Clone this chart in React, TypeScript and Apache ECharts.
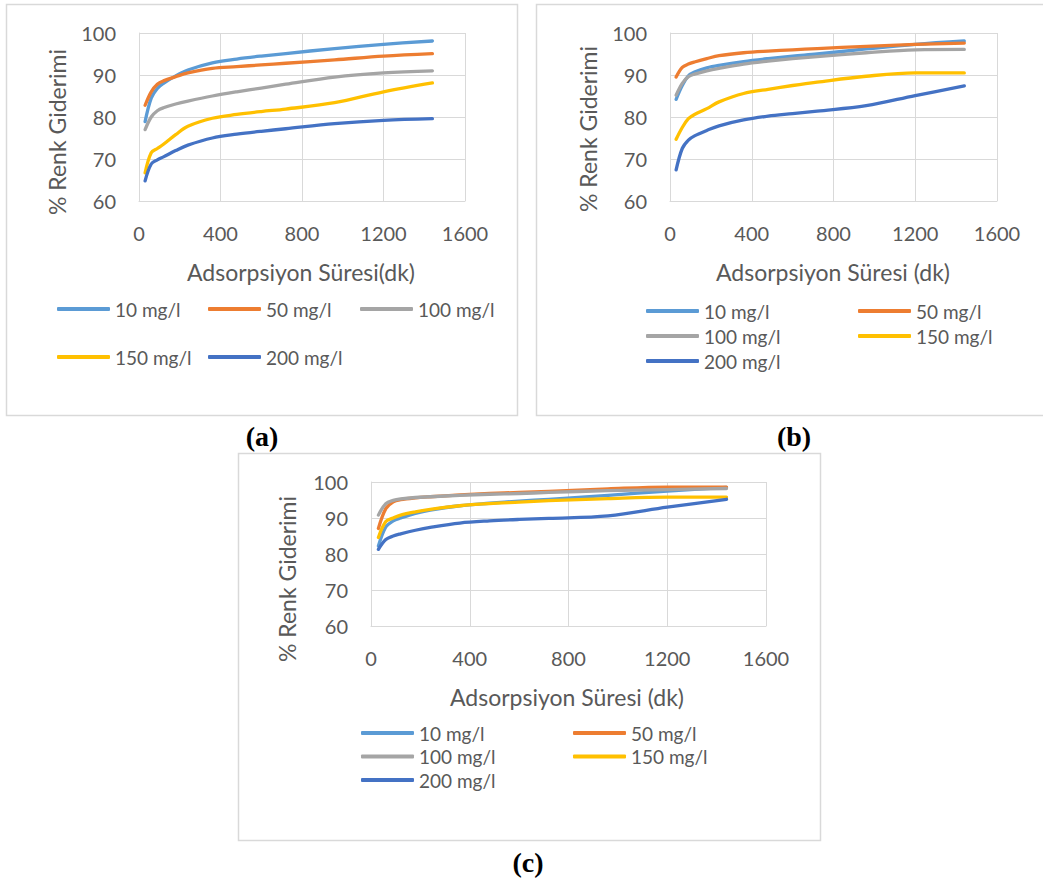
import React, { useEffect, useRef } from "react";
import * as echarts from "echarts";

// ---- data ----
const TIMES = [30, 60, 90, 120, 180, 240, 360, 480, 600, 720, 960, 1200, 1440];
const SERIES_NAMES = ["10 mg/l", "50 mg/l", "100 mg/l", "150 mg/l", "200 mg/l"];
const COLORS = ["#5B9BD5", "#ED7D31", "#A5A5A5", "#FFC000", "#4472C4"];
const X_TICKS = [0, 400, 800, 1200, 1600];
const Y_TICKS = [60, 70, 80, 90, 100];

// panel (a)
const A_10 = [78.9, 84.5, 86.8, 88.0, 89.8, 91.2, 92.9, 93.8, 94.5, 95.1, 96.3, 97.3, 98.1];
const A_50 = [82.8, 86.0, 87.8, 88.6, 89.6, 90.5, 91.6, 92.0, 92.4, 92.8, 93.6, 94.5, 95.1];
const A_100 = [77.0, 80.0, 81.5, 82.2, 83.1, 83.8, 85.0, 86.0, 86.9, 87.8, 89.5, 90.5, 91.0];
const A_150 = [66.7, 71.5, 72.5, 73.5, 75.8, 77.8, 79.7, 80.6, 81.3, 81.9, 83.4, 86.0, 88.1];
const A_200 = [64.8, 68.8, 69.8, 70.5, 72.0, 73.3, 75.0, 75.9, 76.6, 77.2, 78.4, 79.2, 79.6];

// panel (b)
const B_10 = [84.2, 87.5, 89.8, 90.7, 91.7, 92.3, 93.2, 93.9, 94.5, 95.0, 96.2, 97.3, 98.1];
const B_50 = [89.5, 91.8, 92.6, 93.1, 93.9, 94.6, 95.3, 95.7, 96.0, 96.3, 96.8, 97.3, 97.6];
const B_100 = [85.2, 88.0, 89.6, 90.2, 91.0, 91.6, 92.6, 93.3, 93.9, 94.4, 95.3, 96.0, 96.1];
const B_150 = [74.7, 77.5, 79.6, 80.6, 82.0, 83.6, 85.6, 86.6, 87.5, 88.3, 89.7, 90.5, 90.5];
const B_200 = [67.4, 72.5, 74.5, 75.5, 76.8, 77.9, 79.3, 80.2, 80.8, 81.4, 82.7, 85.1, 87.4];

// panel (c)
const C_10 = [82.2, 87.5, 89.2, 90.0, 91.3, 92.2, 93.4, 94.1, 94.7, 95.2, 96.3, 97.5, 98.5];
const C_50 = [87.1, 92.6, 94.5, 95.1, 95.6, 95.9, 96.4, 96.8, 97.1, 97.4, 98.1, 98.6, 98.6];
const C_100 = [90.8, 94.0, 94.9, 95.3, 95.7, 95.9, 96.3, 96.6, 96.8, 97.1, 97.6, 97.9, 98.2];
const C_150 = [84.6, 89.0, 90.0, 90.8, 91.7, 92.4, 93.4, 94.0, 94.4, 94.8, 95.4, 95.8, 95.8];
const C_200 = [81.3, 84.0, 85.0, 85.6, 86.6, 87.4, 88.6, 89.2, 89.6, 89.9, 90.6, 93.0, 95.2];

const PANEL_DATA = [
  [A_10, A_50, A_100, A_150, A_200],
  [B_10, B_50, B_100, B_150, B_200],
  [C_10, C_50, C_100, C_150, C_200],
];
const X_TITLES = ["Adsorpsiyon Süresi(dk)", "Adsorpsiyon Süresi (dk)", "Adsorpsiyon Süresi (dk)"];
const Y_TITLE = "% Renk Giderimi";
const PANEL_LABELS = ["(a)", "(b)", "(c)"];

// ---- layout (pixels) ----
const FONT = "Lato, 'Open Sans', sans-serif";
const TXT = "#595959";
const GRIDC = "#D9D9D9";

const GRIDS = [
  { left: 139, top: 33, width: 326, height: 168 },
  { left: 670, top: 33, width: 327, height: 168 },
  { left: 371, top: 482, width: 395, height: 144 },
];
const BOXES = [
  { x: 6.5, y: 4.5, w: 511, h: 411 },
  { x: 536.5, y: 4.5, w: 540, h: 411 },
  { x: 238.5, y: 453.5, w: 582, h: 387 },
];
const XTITLE_POS = [
  [301, 272],
  [833, 272],
  [567, 697],
];
const YTITLE_POS = [
  [57, 132],
  [588, 129],
  [287, 579],
];
const LABEL_POS = [
  [262, 436],
  [794, 436],
  [528, 862],
];
const LEGENDS = [
  { left: 57, top: 299, gap: 28, items: [0, 3] },
  { left: 208, top: 299, gap: 28, items: [1, 4] },
  { left: 360, top: 299, gap: 28, items: [2] },
  { left: 646, top: 301, gap: 5, items: [0, 2, 4] },
  { left: 858, top: 301, gap: 5, items: [1, 3] },
  { left: 361, top: 723, gap: 3.5, items: [0, 2, 4] },
  { left: 573, top: 723, gap: 3.5, items: [1, 3] },
];

function buildOption() {
  const grid = GRIDS.map((g) => ({ ...g, containLabel: false }));
  const xAxis = GRIDS.map((_, i) => ({
    type: "value",
    gridIndex: i,
    min: X_TICKS[0],
    max: X_TICKS[X_TICKS.length - 1],
    interval: X_TICKS[1] - X_TICKS[0],
    axisLine: { show: true, lineStyle: { color: GRIDC, width: 1 } },
    axisTick: { show: false },
    splitLine: { show: true, lineStyle: { color: GRIDC, width: 1 } },
    axisLabel: {
      color: TXT,
      fontSize: 20,
      fontFamily: FONT,
      margin: 22,
      formatter: (v: number) => String(v),
    },
  }));
  const yAxis = GRIDS.map((_, i) => ({
    type: "value",
    gridIndex: i,
    min: Y_TICKS[0],
    max: Y_TICKS[Y_TICKS.length - 1],
    interval: Y_TICKS[1] - Y_TICKS[0],
    axisLine: { show: true, lineStyle: { color: GRIDC, width: 1 } },
    axisTick: { show: false },
    splitLine: { show: true, lineStyle: { color: GRIDC, width: 1 } },
    axisLabel: {
      color: TXT,
      fontSize: 20,
      fontFamily: FONT,
      margin: 23,
      formatter: (v: number) => String(v),
    },
  }));
  const series: any[] = [];
  PANEL_DATA.forEach((panel, p) => {
    panel.forEach((vals, s) => {
      series.push({
        type: "line",
        name: SERIES_NAMES[s],
        xAxisIndex: p,
        yAxisIndex: p,
        smooth: 0.35,
        symbol: "none",
        color: COLORS[s],
        lineStyle: { width: 3.3, color: COLORS[s], cap: "round", join: "round" },
        data: TIMES.map((t, k) => [t, vals[k]]),
      });
    });
  });
  const legend = LEGENDS.map((l) => ({
    orient: "vertical",
    left: l.left,
    top: l.top,
    padding: 0,
    itemGap: l.gap,
    itemWidth: 53,
    itemHeight: 4,
    icon: "roundRect",
    selectedMode: false,
    textStyle: { color: TXT, fontSize: 19, fontFamily: FONT, lineHeight: 20, padding: [0, 0, 0, 0] },
    data: l.items.map((k) => SERIES_NAMES[k]),
  }));
  const graphic: any[] = [];
  BOXES.forEach((b) => {
    graphic.push({
      type: "rect",
      silent: true,
      z: -10,
      shape: { x: b.x, y: b.y, width: b.w, height: b.h },
      style: { fill: "none", stroke: GRIDC, lineWidth: 1.5 },
    });
  });
  X_TITLES.forEach((t, i) => {
    graphic.push({
      type: "text",
      x: XTITLE_POS[i][0],
      y: XTITLE_POS[i][1],
      style: { text: t, fill: TXT, fontSize: 23, fontFamily: FONT, align: "center", verticalAlign: "middle" },
    });
    graphic.push({
      type: "text",
      x: YTITLE_POS[i][0],
      y: YTITLE_POS[i][1],
      rotation: Math.PI / 2,
      style: { text: Y_TITLE, fill: TXT, fontSize: 23, fontFamily: FONT, align: "center", verticalAlign: "middle" },
    });
    graphic.push({
      type: "text",
      x: LABEL_POS[i][0],
      y: LABEL_POS[i][1],
      style: {
        text: PANEL_LABELS[i],
        fill: "#000000",
        fontSize: 28,
        fontWeight: "bold",
        fontFamily: "'Liberation Serif', 'Times New Roman', serif",
        align: "center",
        verticalAlign: "middle",
      },
    });
  });
  return {
    animation: false,
    backgroundColor: "#ffffff",
    grid,
    xAxis,
    yAxis,
    series,
    legend,
    graphic,
  };
}

export default function App() {
  const ref = useRef<HTMLDivElement>(null);
  useEffect(() => {
    if (!ref.current) return;
    const chart = echarts.init(ref.current, undefined, { renderer: "svg" });
    chart.setOption(buildOption() as any);
    return () => chart.dispose();
  }, []);
  return (
    <div
      ref={ref}
      style={{ position: "absolute", left: 0, top: 0, width: 1043, height: 878, background: "#fff" }}
    />
  );
}
